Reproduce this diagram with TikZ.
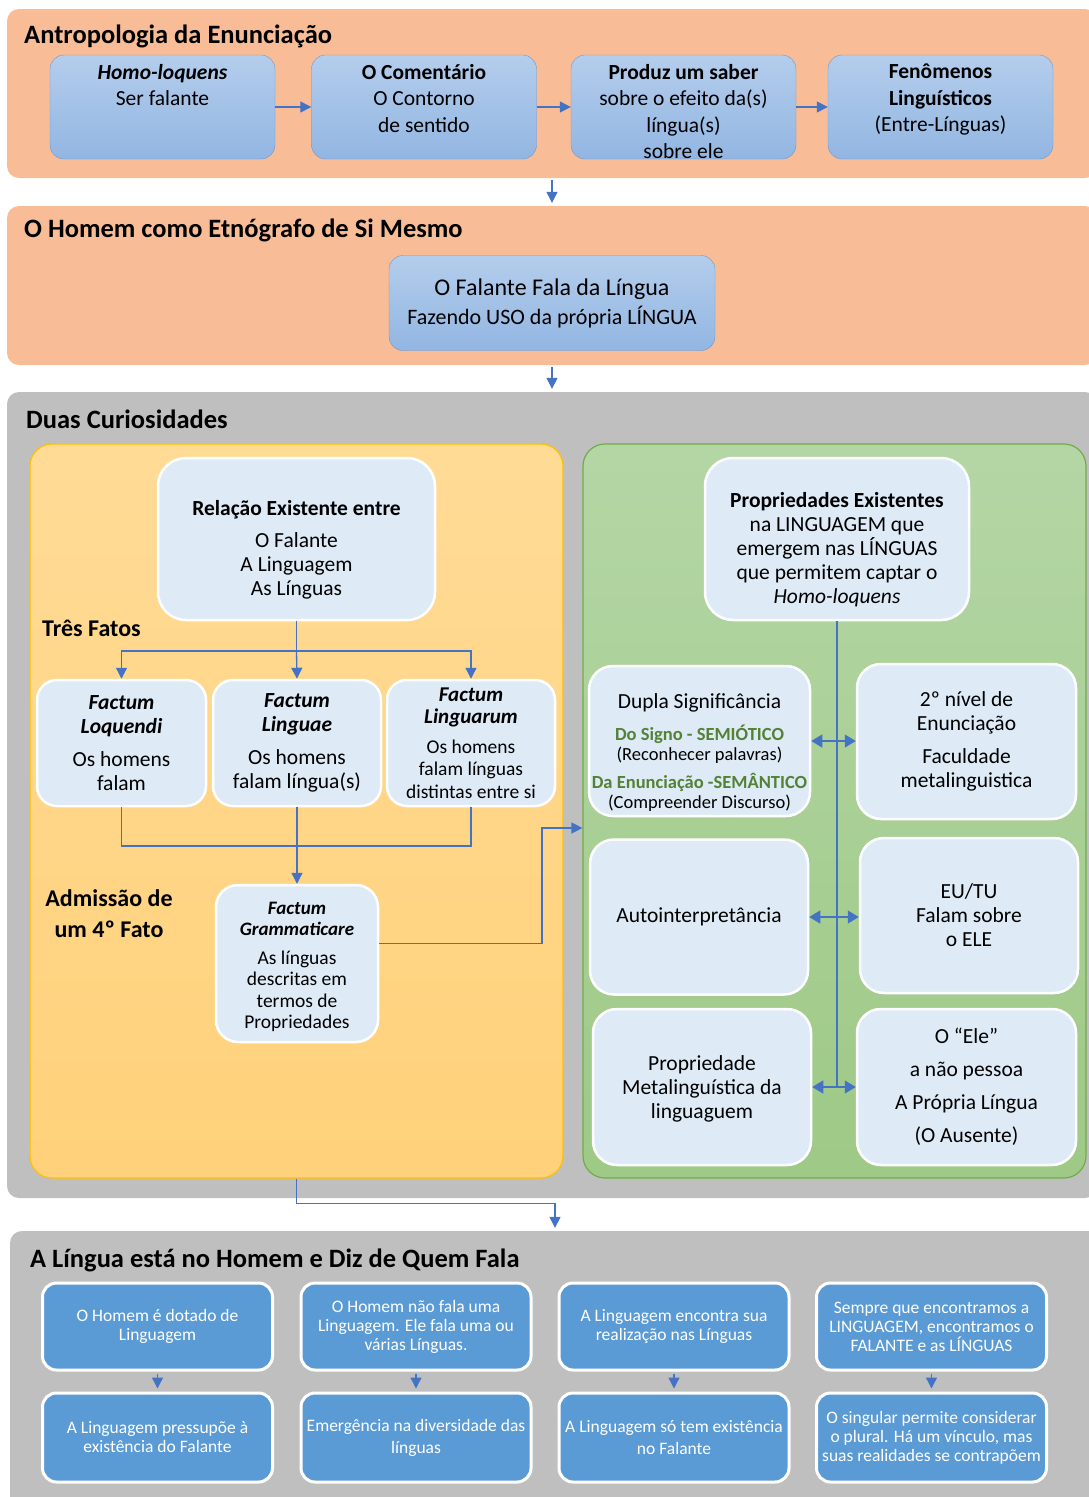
\documentclass[tikz,border=0pt]{standalone}
\usepackage{fontspec}
\setmainfont{Carlito}
\usepackage{tikz}
\usetikzlibrary{arrows.meta}

\definecolor{laranja}{RGB}{248,189,150}
\definecolor{cinza}{RGB}{191,191,191}
\definecolor{etapatopo}{RGB}{180,205,236}
\definecolor{etapabase}{RGB}{146,182,226}
\definecolor{bordaetapa}{RGB}{108,150,208}
\definecolor{amarelotopo}{RGB}{255,219,150}
\definecolor{amarelobase}{RGB}{255,209,122}
\definecolor{bordaamarela}{RGB}{255,192,0}
\definecolor{verdetopo}{RGB}{180,214,165}
\definecolor{verdebase}{RGB}{158,201,134}
\definecolor{bordaverde}{RGB}{112,173,71}
\definecolor{azulclaro}{RGB}{222,234,246}
\definecolor{azulforte}{RGB}{91,155,213}
\definecolor{azulseta}{RGB}{68,114,196}
\definecolor{verdetexto}{RGB}{84,130,53}

\newcommand{\menor}{\fontsize{18.5}{24}\selectfont}
\newcommand{\topo}[1]{\rule{0pt}{#1}}

\begin{document}
\begin{tikzpicture}[x=1pt, y=-1pt,
		secao/.style={rounded corners=12pt, minimum width=1090pt, inner sep=0pt},
		titulo/.style={anchor=base west, inner sep=0pt, font=\fontsize{26.5}{30}\selectfont\bfseries},
		etapa/.style={draw=bordaetapa, top color=etapatopo, bottom color=etapabase, rounded corners=14pt, minimum width=225pt, minimum height=104pt, inner sep=0pt},
		etapatexto/.style={anchor=north, align=center, inner sep=0pt, font=\fontsize{21.5}{26.5}\selectfont},
		painel/.style={rounded corners=22pt, line width=1.2pt, minimum width=#1, minimum height=734pt, inner sep=0pt},
		caixa/.style={fill=azulclaro, draw=white, line width=2.5pt, rounded corners=24pt, align=center, inner sep=0pt, font=\fontsize{21.5}{24}\selectfont},
		ideia/.style={fill=azulforte, draw=white, line width=3pt, rounded corners=14pt, minimum width=230pt, align=center, inner sep=0pt, text=white, font=\fontsize{17.5}{19}\selectfont},
		linha/.style={draw=azulseta, line width=1.3pt},
		seta/.style={linha, -{Triangle[length=11pt, width=11pt]}},
		setadupla/.style={linha, {Triangle[length=11pt, width=13pt]}-{Triangle[length=11pt, width=13pt]}}
	]
	\useasboundingbox (0,0) rectangle (1089,1497);
	\clip (0,0) rectangle (1089,1497);
	
	% Section backgrounds
	\node[secao, fill=laranja, minimum height=169pt] (sec1) at (552,93.5) {};
	\node[secao, fill=laranja, minimum height=159pt] (sec2) at (552,285.5) {};
	\node[secao, fill=cinza, minimum height=806pt] (sec3) at (552,795) {};
	\node[secao, fill=cinza, minimum height=279pt] (sec4) at (555,1370.5) {};
	
	% Section titles
	\node[titulo] (titulo1) at (24,43) {Antropologia da Enunciação};
	\node[titulo] (titulo2) at (24,237) {O Homem como Etnógrafo de Si Mesmo};
	\node[titulo] (titulo3) at (26,428) {Duas Curiosidades};
	\node[titulo] (titulo4) at (30,1267) {A Língua está no Homem e Diz de Quem Fala};
	
	% Antropologia da Enunciacao: the four steps
	\node[etapa] (homo) at (162.5,107) {};
	\node[etapa] (comentario) at (424,107) {};
	\node[etapa] (saber) at (683.5,107) {};
	\node[etapa] (fenomenos) at (940.5,107) {};
	\node[etapatexto] (homotexto) at ([yshift=-9pt]homo.north) {\textbf{\textit{Homo-loquens}}\\Ser falante};
	\node[etapatexto] (comentariotexto) at ([yshift=-9pt]comentario.north) {\textbf{O Comentário}\\O Contorno\\de sentido};
	\node[etapatexto] (sabertexto) at ([yshift=-9pt]saber.north) {\textbf{Produz um saber}\\sobre o efeito da(s)\\língua(s)\\sobre ele};
	\node[etapatexto] (fenomenostexto) at ([yshift=-9pt]fenomenos.north) {\textbf{Fenômenos}\\\textbf{Linguísticos}\\(Entre-Línguas)};
	\draw[seta] (homo) -- (comentario);
	\draw[seta] (comentario) -- (saber);
	\draw[seta] (saber) -- (fenomenos);
	
	% O Homem como Etnografo
	\node[etapa, minimum width=326pt, minimum height=95pt, align=center, font=\fontsize{22}{29}\selectfont] (falante) at (552,303) {{\fontsize{24}{29}\selectfont O Falante Fala da Língua}\\Fazendo USO da própria LÍNGUA};
	
	\draw[seta, shorten <=2pt, shorten >=3pt] (sec1.south) -- (sec2.north);
	\draw[seta, shorten <=2pt, shorten >=3pt] (sec2.south) -- (sec3.north);
	
	% Duas Curiosidades: the two panels
	\node[painel=533pt, draw=bordaamarela, top color=amarelotopo, bottom color=amarelobase] (amarelo) at (296.5,811) {};
	\node[painel=503pt, draw=bordaverde, top color=verdetopo, bottom color=verdebase] (verde) at (834.5,811) {};
	
	% Left panel: the facts
	\node[caixa, rounded corners=28pt, minimum width=277pt, minimum height=162pt] (relacao) at (296.5,539) {\topo{36pt}\textbf{Relação Existente entre}\\[8pt]O Falante\\A Linguagem\\As Línguas};
	\node[anchor=base west, inner sep=0pt, font=\fontsize{24}{28}\selectfont\bfseries] (tresfatos) at (42,636) {Três Fatos};
	\node[caixa, rounded corners=20pt, minimum width=169pt, minimum height=126pt] (loquendi) at (121.5,743) {\textbf{\textit{Factum}}\\\textbf{\textit{Loquendi}}\\[9pt]Os homens\\falam};
	\node[caixa, rounded corners=20pt, minimum width=168pt, minimum height=126pt] (linguae) at (297,743) {\textbf{\textit{Factum}}\\\textbf{\textit{Linguae}}\\[9pt]Os homens\\falam língua(s)};
	\node[caixa, rounded corners=20pt, minimum width=168pt, minimum height=126pt, font=\fontsize{19.5}{22.5}\selectfont] (linguarum) at (471,743) {{\fontsize{21}{24}\selectfont\textbf{\textit{Factum}}}\\{\fontsize{21}{24}\selectfont\textbf{\textit{Linguarum}}}\\[7pt]Os homens\\falam línguas\\distintas entre si};
	\node[align=center, inner sep=0pt, font=\fontsize{24}{31}\selectfont\bfseries] (admissao) at (109,914) {Admissão de\\um 4º Fato};
	\node[caixa, rounded corners=22pt, minimum width=162pt, minimum height=157pt, font=\fontsize{19.5}{21.5}\selectfont] (gram) at (297,963.5) {\topo{19pt}{\fontsize{19}{21.5}\selectfont\textbf{\textit{Factum}}}\\{\fontsize{19}{21.5}\selectfont\textbf{\textit{Grammaticare}}}\\[7pt]As línguas\\descritas em\\termos de\\Propriedades};
	
	\coordinate (ramo) at (296.5,651);
	\draw[linha] (relacao.south) -- (ramo);
	\draw[seta] (ramo) -| (loquendi.north);
	\draw[seta] (ramo) -- (linguae.north);
	\draw[seta] (ramo) -| (linguarum.north);
	\coordinate (junta) at (297,846);
	\draw[linha] (loquendi.south) |- (junta) -| (linguarum.south);
	\draw[seta] (linguae.south) -- (gram.north);
	\coordinate (dobra) at (542,828);
	\draw[seta] ([yshift=20pt]gram.east) -| (dobra) -- (dobra -| verde.west);
	
	% Right panel: the properties
	\node[caixa, rounded corners=28pt, minimum width=264pt, minimum height=162pt] (propriedades) at (837,539) {\topo{36pt}\textbf{Propriedades Existentes}\\na LINGUAGEM que\\emergem nas LÍNGUAS\\que permitem captar o\\\textit{Homo-loquens}};
	\node[caixa, minimum width=221pt, minimum height=150pt] (dupla) at (699.5,741) {\topo{37pt}Dupla Significância\\[8pt]{\menor\textbf{\textcolor{verdetexto}{Do Signo - SEMIÓTICO}}}\\[-4pt]{\menor(Reconhecer palavras)}\\[4pt]{\menor\textbf{\textcolor{verdetexto}{Da Enunciação -SEMÂNTICO}}}\\[-4pt]{\menor(Compreender Discurso)}};
	\node[caixa, minimum width=219pt, minimum height=155pt] (nivel) at (966.5,741.5) {2º nível de\\Enunciação\\[9pt]Faculdade\\metalinguistica};
	\node[caixa, minimum width=218pt, minimum height=155pt] (auto) at (699,917) {Autointerpretância};
	\node[caixa, minimum width=218pt, minimum height=155pt] (eutu) at (969,915.5) {EU/TU\\Falam sobre\\o ELE};
	\node[caixa, minimum width=218pt, minimum height=156pt] (meta) at (702,1087) {\topo{19pt}Propriedade\\Metalinguística da\\linguaguem};
	\node[caixa, minimum width=219pt, minimum height=156pt] (ele) at (966.5,1087) {O “Ele”\\[9pt]a não pessoa\\[9pt]A Própria Língua\\[9pt](O Ausente)};
	
	\draw[linha, line width=2pt] (propriedades.south) -- (propriedades.south |- meta.east);
	\draw[setadupla] (dupla.east) -- (dupla.east -| nivel.west);
	\draw[setadupla] (auto.east) -- (auto.east -| eutu.west);
	\draw[setadupla] (meta.east) -- (meta.east -| ele.west);
	
	\draw[seta, shorten >=3pt] (amarelo.south) -- ++(0,25) -| (sec4.north);
	
	% A Lingua esta no Homem
	\node[ideia, minimum height=87pt] (dotado) at (157.5,1326.5) {O Homem é dotado de\\Linguagem};
	\node[ideia, minimum height=87pt] (naofala) at (416,1326.5) {O Homem não fala uma\\Linguagem. Ele fala uma ou\\várias Línguas.};
	\node[ideia, minimum height=87pt] (realizacao) at (674,1326.5) {A Linguagem encontra sua\\realização nas Línguas};
	\node[ideia, minimum height=87pt] (sempre) at (931.5,1326.5) {Sempre que encontramos a\\LINGUAGEM, encontramos o\\FALANTE e as LÍNGUAS};
	\node[ideia, minimum height=89pt] (pressupoe) at (157.5,1437.5) {A Linguagem pressupõe à\\existência do Falante};
	\node[ideia, minimum height=89pt] (emergencia) at (416,1437.5) {Emergência na diversidade das\\[3pt]línguas};
	\node[ideia, minimum height=89pt] (existencia) at (674,1437.5) {A Linguagem só tem existência\\[3pt]no Falante};
	\node[ideia, minimum height=89pt] (singular) at (931.5,1437.5) {O singular permite considerar\\o plural. Há um vínculo, mas\\suas realidades se contrapõem};
	
	\draw[seta, shorten <=2pt, shorten >=3pt] (dotado) -- (pressupoe);
	\draw[seta, shorten <=2pt, shorten >=3pt] (naofala) -- (emergencia);
	\draw[seta, shorten <=2pt, shorten >=3pt] (realizacao) -- (existencia);
	\draw[seta, shorten <=2pt, shorten >=3pt] (sempre) -- (singular);
\end{tikzpicture}
\end{document}
